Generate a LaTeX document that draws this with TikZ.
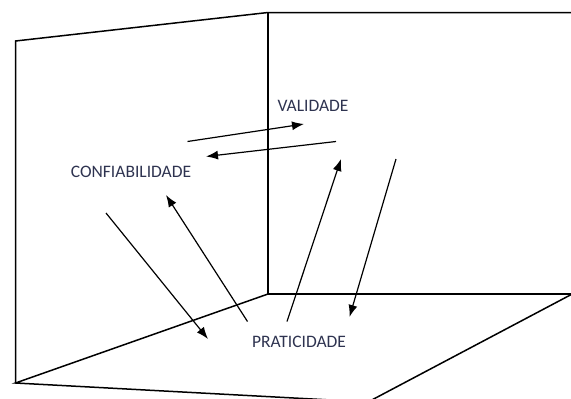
\documentclass[tikz,border=0pt]{standalone}
\usepackage{fontspec}
\setmainfont{Carlito}
\usetikzlibrary{arrows.meta}
\definecolor{lbl}{HTML}{2E3350}
\begin{document}
\begin{tikzpicture}[x=1pt,y=-1pt,
  wall/.style={line width=1.5pt,black},
  conn/.style={line width=1.2pt,black,-{Latex[length=12pt,width=9pt]}},
  lab/.style={text=lbl,font=\fontsize{17.5}{20}\selectfont,inner sep=0pt}]
\useasboundingbox (0,0) rectangle (571,399);
\begin{scope}
\clip (0,0) rectangle (571,399);
% walls
\coordinate (tl) at (15.5,41);
\coordinate (tm) at (268,12.5);
\coordinate (tr) at (575,12.5);
\coordinate (bm) at (268,294);
\coordinate (br) at (575,294);
\coordinate (bl) at (15.5,383);
\coordinate (fb) at (368,402);
\coordinate (fr) at (576,292);
\draw[wall] (bl) -- (tl) -- (tm) -- (tr);
\draw[wall] (tm) -- (bm) -- (br);
\draw[wall] (bm) -- (bl) -- (fb);
\draw[wall] (fb) -- (fr);
\end{scope}
% labels
\node[lab] (val) at (313,105.5) {VALIDADE};
\node[lab] (conf) at (131,172) {CONFIABILIDADE};
\node[lab] (prat) at (299,341.5) {PRATICIDADE};
% arrow end points
\coordinate (a1s) at (187.5,141.5);
\coordinate (a1e) at (304,124);
\coordinate (a2s) at (336,141.5);
\coordinate (a2e) at (206,156.5);
\coordinate (a3s) at (247.5,321.5);
\coordinate (a3e) at (166,195);
\coordinate (a4s) at (106,213);
\coordinate (a4e) at (208,339);
\coordinate (a5s) at (287,321.5);
\coordinate (a5e) at (341,159);
\coordinate (a6s) at (396,159);
\coordinate (a6e) at (349.5,317);
\draw[conn] (a1s) -- (a1e);
\draw[conn] (a2s) -- (a2e);
\draw[conn] (a3s) -- (a3e);
\draw[conn] (a4s) -- (a4e);
\draw[conn] (a5s) -- (a5e);
\draw[conn] (a6s) -- (a6e);
\end{tikzpicture}
\end{document}
